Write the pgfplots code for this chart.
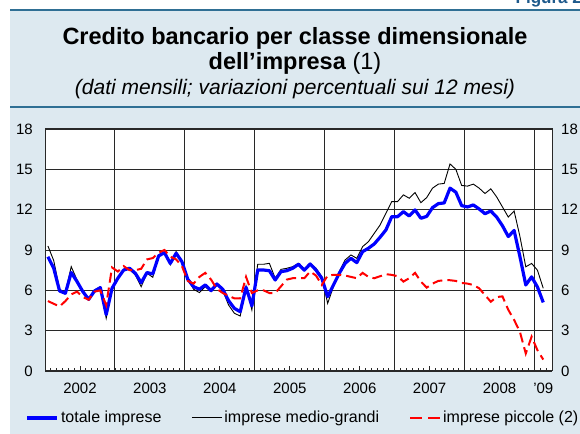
\documentclass[border=0pt]{standalone}
\usepackage{fontspec}
\setmainfont{Liberation Sans}
\usepackage{pgfplots}
\usepackage{pgfplotstable}
\pgfplotsset{compat=1.18}
\definecolor{panel}{RGB}{221,233,240}
\definecolor{rulec}{RGB}{47,111,148}
\definecolor{figc}{RGB}{30,90,140}
\definecolor{gridc}{RGB}{40,40,40}

\pgfplotstableread{
m b g p
0.5 8.5 9.3 5.2
1.5 7.64 8.21 5.0
2.5 5.95 6.08 4.8
3.5 5.78 5.85 5.2
4.5 7.32 7.76 5.7
5.5 6.65 6.77 5.9
6.5 5.9 5.9 5.5
7.5 5.33 5.28 5.3
8.5 5.95 6.03 5.9
9.5 6.2 6.27 6.0
10.5 4.2 3.92 4.9
11.5 6.15 6.08 7.7
12.5 6.9 6.9 7.4
13.5 7.51 7.56 7.8
14.5 7.64 7.56 7.5
15.5 7.27 7.14 7.5
16.5 6.57 6.27 7.6
17.5 7.32 7.27 8.3
18.5 7.22 6.97 8.4
19.5 8.56 8.63 8.8
20.5 8.8 8.88 9.0
21.5 8.0 7.89 8.5
22.5 8.76 8.88 8.3
23.5 8.13 8.13 7.8
24.5 6.82 6.82 6.7
25.5 6.27 6.08 6.5
26.5 6.08 5.83 7.0
27.5 6.4 6.27 7.3
28.5 5.98 5.9 6.8
29.5 6.47 6.4 6.1
30.5 6.08 5.98 5.8
31.5 5.23 4.91 5.6
32.5 4.66 4.29 5.4
33.5 4.41 4.09 5.4
34.5 6.23 6.32 7.0
35.5 4.84 4.54 5.8
36.5 7.51 7.94 6.0
37.5 7.51 7.94 6.0
38.5 7.46 8.01 5.8
39.5 6.77 6.9 5.8
40.5 7.39 7.56 6.3
41.5 7.46 7.64 6.8
42.5 7.64 7.76 6.9
43.5 7.94 8.01 6.9
44.5 7.5 7.6 6.9
45.5 7.96 8.01 7.4
46.5 7.51 7.64 7.1
47.5 6.9 7.02 6.4
48.5 5.53 5.03 7.1
49.5 6.4 6.27 7.15
50.5 7.27 7.39 7.15
51.5 8.01 8.26 7.1
52.5 8.38 8.63 7.0
53.5 8.06 8.38 6.9
54.5 8.88 9.25 7.3
55.5 9.13 9.62 7.0
56.5 9.45 10.24 6.9
57.5 9.95 10.86 7.05
58.5 10.49 11.73 7.2
59.5 11.48 12.6 7.15
60.5 11.48 12.6 7.05
61.5 11.85 13.1 6.65
62.5 11.53 12.85 6.9
63.5 11.98 13.27 7.3
64.5 11.36 12.52 6.65
65.5 11.5 12.9 6.2
66.5 12.15 13.6 6.5
67.5 12.45 13.9 6.7
68.5 12.5 13.95 6.75
69.5 13.6 15.4 6.75
70.5 13.3 15.0 6.7
71.5 12.3 13.8 6.55
72.5 12.2 13.75 6.5
73.5 12.35 13.9 6.4
74.5 12.05 13.6 6.15
75.5 11.7 13.2 5.65
76.5 11.9 13.55 5.15
77.5 11.45 12.95 5.5
78.5 10.8 12.2 5.55
79.5 10.0 11.45 4.55
80.5 10.45 11.9 3.8
81.5 8.5 10.0 2.9
82.5 6.4 7.75 1.3
83.5 7.0 8.0 2.55
84.5 6.25 7.5 1.55
85.5 5.1 6.15 0.85
}\data

\begin{document}
\begin{tikzpicture}[x=1bp,y=1bp]
\useasboundingbox (0,0) rectangle (580,434);
\clip (0,0) rectangle (580,434);
\fill[white] (0,0) rectangle (580,434);
\fill[panel] (10,0) rectangle (580,423.5);
\draw[rulec, line width=2bp] (10,423.5) -- (580,423.5);
\draw[rulec, line width=2bp] (10,327) -- (580,327);
\node[anchor=base east, text=figc, font=\fontsize{17bp}{20bp}\selectfont\bfseries, inner sep=0] at (582,430) {Figura 2};
\node[anchor=base, inner sep=0, font=\fontsize{23.5bp}{27bp}\selectfont\bfseries] at (295,389) {Credito bancario per classe dimensionale};
\node[anchor=base, inner sep=0, font=\fontsize{23.5bp}{27bp}\selectfont] at (295,364) {\textbf{dell’impresa} (1)};
\node[anchor=base, inner sep=0, font=\fontsize{21bp}{25bp}\selectfont\itshape] at (295,339) {(dati mensili; variazioni percentuali sui 12 mesi)};

\begin{axis}[at={(45bp,63bp)}, anchor=south west, width=507bp, height=242bp, scale only axis,
  xmin=0, xmax=87, ymin=0, ymax=18,
  axis background/.style={fill=white},
  axis line style={gridc, line width=1bp},
  ytick={0,3,...,18}, ymajorgrids,
  xtick={0,12,24,36,48,60,72,84,87}, xmajorgrids,
  major grid style={gridc, line width=0.9bp},
  x tick label as interval,
  xticklabels={2002,2003,2004,2005,2006,2007,2008,'09},
  minor xtick={1,...,86},
  major tick length=0pt, minor tick length=3bp,
  tick style={gridc, line width=0.8bp},
  xtick pos=left, ytick pos=left,
  extra x ticks={6,18,30,42,54,66,78},
  extra x tick labels={},
  extra x tick style={grid=none, major tick length=5bp},
  /pgf/number format/assume math mode=true,
  ticklabel style={font=\fontsize{15bp}{18bp}\selectfont},
  yticklabel style={inner sep=0pt, anchor=east, xshift=-12bp},
  xticklabel style={inner sep=0pt, anchor=north, yshift=-12bp},
  legend style={at={(0.509,-0.194)}, anchor=center, draw=none, fill=none,
    legend columns=3, font=\fontsize{16bp}{19bp}\selectfont,
    /tikz/every even column/.append style={column sep=28bp}},
  legend image code/.code={\draw[#1] (0bp,0bp) -- (30bp,0bp);},
]
\addlegendimage{blue, line width=3.2bp}
\addlegendentry{totale imprese}
\addlegendimage{black, line width=0.9bp}
\addlegendentry{imprese medio-grandi}
\addlegendimage{red, line width=2bp, dash pattern=on 12bp off 6bp}
\addlegendentry{imprese piccole (2)}
\addplot[black, line width=0.9bp, forget plot] table[x=m,y=g]{\data};
\addplot[blue, line width=3.2bp, line join=round, forget plot] table[x=m,y=b]{\data};
\addplot[red, line width=2bp, dash pattern=on 10bp off 5bp, forget plot] table[x=m,y=p]{\data};
\end{axis}

\begin{axis}[at={(45bp,63bp)}, anchor=south west, width=507bp, height=242bp, scale only axis,
  xmin=0, xmax=87, ymin=0, ymax=18,
  axis line style={draw=none},
  xtick=\empty, ytick={0,3,...,18},
  ytick pos=right, yticklabel pos=right,
  major tick length=0pt,
  /pgf/number format/assume math mode=true,
  ticklabel style={font=\fontsize{15bp}{18bp}\selectfont},
  yticklabel style={inner sep=0pt, anchor=west, xshift=9bp},
]
\end{axis}
\end{tikzpicture}
\end{document}
